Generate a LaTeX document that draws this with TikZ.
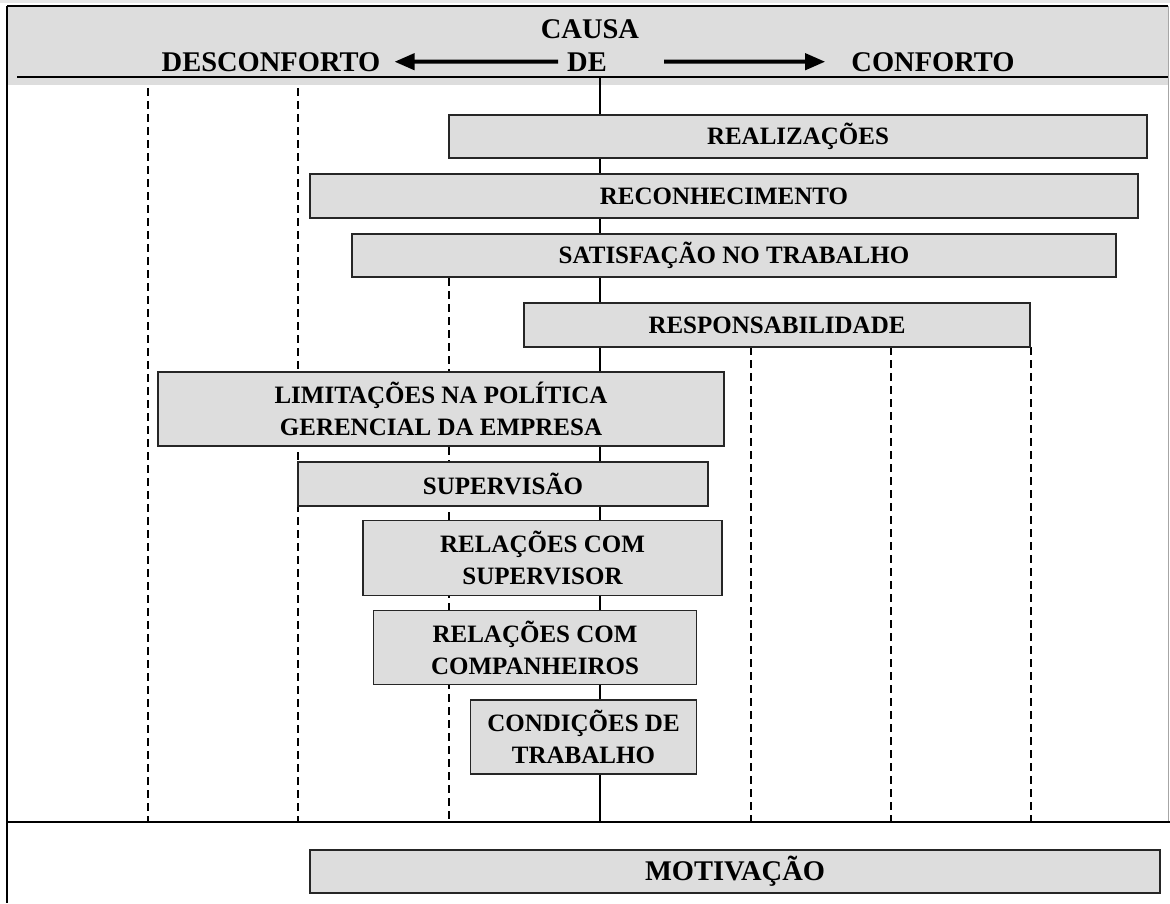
\documentclass[tikz,border=0pt]{standalone}
\usepackage{fontspec}
\setmainfont{Liberation Serif}
\usepackage{xcolor}
\usetikzlibrary{arrows.meta}

\definecolor{boxgray}{HTML}{DDDDDD}

\tikzset{
  factor/.style={draw=black!85, line width=1.8pt, fill=boxgray, align=center,
    inner sep=0pt, font=\fontsize{25}{32}\selectfont\bfseries},
  heading/.style={inner sep=0pt, font=\fontsize{28.5}{32}\selectfont\bfseries},
  guide/.style={line width=1.8pt, dash pattern=on 8pt off 5pt},
  cause/.style={line width=4pt, -{Triangle[length=20pt, width=16pt]}}
}

\begin{document}
\begin{tikzpicture}[x=1pt, y=-1pt]
        \useasboundingbox (0,0) rectangle (1170,903);

        % Draw the header band
        \fill[boxgray!70] (0,0) rectangle (1170,3);
        \fill[boxgray] (7,6) rectangle (1168,85);
        \draw[line width=1.6pt] (7,6) -- (1168,6);
        \draw[line width=1.4pt] (17,77) -- (1168,77);

        % Draw the frame
        \draw[line width=2pt] (7,6) -- (7,903);
        \draw[black!35, line width=1pt] (1168,6) -- (1168,822);
        \draw[line width=2.6pt] (7,822) -- (1170,822);

        % Draw the dashed guides
        \draw[guide] (148,88) -- (148,822);
        \draw[guide] (298,88) -- (298,822);
        \draw[guide] (449,278) -- (449,822);
        \draw[guide] (751,347) -- (751,822);
        \draw[guide] (891,347) -- (891,822);
        \draw[guide] (1031,347) -- (1031,822);

        % Draw the axis
        \coordinate (axistop) at (600,77);
        \coordinate (axisbottom) at (600,822);
        \draw[line width=1.8pt] (axistop) -- (axisbottom);

        % Draw the factors
        \node[factor, minimum width=698pt, minimum height=43pt] (realiz) at (798,136.5) {REALIZAÇÕES};
        \node[factor, minimum width=828pt, minimum height=44pt] (reconh) at (724,196) {RECONHECIMENTO};
        \node[factor, minimum width=764pt, minimum height=43pt] (satisf) at (734,255.5) {SATISFAÇÃO NO TRABALHO};
        \node[factor, minimum width=506pt, minimum height=44pt] (respons) at (777,325) {RESPONSABILIDADE};
        \node[factor, minimum width=566pt, minimum height=74pt] (limit) at (441,409) {LIMITAÇÕES NA POLÍTICA\\GERENCIAL DA EMPRESA};
        \node[factor, minimum width=410pt, minimum height=44pt] (superv) at (503,484) {SUPERVISÃO};
        \node[factor, minimum width=359pt, minimum height=75pt] (relsup) at (542.5,558) {RELAÇÕES COM\\SUPERVISOR};
        \node[factor, minimum width=323pt, minimum height=74pt] (relcomp) at (535,647.5) {RELAÇÕES COM\\COMPANHEIROS};
        \node[factor, minimum width=226pt, minimum height=74pt] (condic) at (583.5,737) {CONDIÇÕES DE\\TRABALHO};
        \node[factor, font=\fontsize{28.5}{32}\selectfont\bfseries, minimum width=850pt, minimum height=43pt] (motiv) at (735,871.5) {MOTIVAÇÃO};

        % Draw the heading and the arrows
        \node[heading, anchor=base] (causa) at (590,38) {CAUSA};
        \node[heading, anchor=base] (de) at (587,71) {DE};
        \node[heading, anchor=base] (desconf) at (271,71) {DESCONFORTO};
        \node[heading, anchor=base] (conf) at (933,71) {CONFORTO};
        \draw[cause] ([xshift=-9pt]de.west) -- ([xshift=14pt]desconf.east);
        \draw[cause] ([xshift=57pt]de.east) -- ([xshift=-26pt]conf.west);

    \end{tikzpicture}
\end{document}
